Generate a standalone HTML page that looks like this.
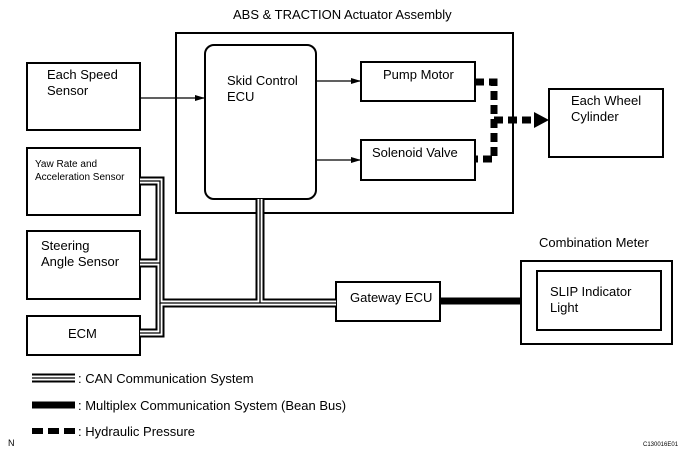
<!DOCTYPE html>
<html><head><meta charset="utf-8"><style>
body{margin:0;background:#fff}
svg{display:block;font-family:"Liberation Sans",Arial,sans-serif}
</style></head><body>
<svg width="689" height="455" viewBox="0 0 689 455" xmlns="http://www.w3.org/2000/svg">
<defs><marker id="a" markerWidth="10" markerHeight="8" refX="9" refY="4" orient="auto" markerUnits="userSpaceOnUse"><path d="M0,1 L10,4 L0,7 Z" fill="#000"/></marker></defs>
<g fill="none" stroke="#000" stroke-width="2">
<rect x="176" y="33" width="337" height="180"/>
<rect x="205" y="45" width="111" height="154" rx="9"/>
<rect x="361" y="62" width="114" height="39"/>
<rect x="361" y="140" width="114" height="40"/>
<rect x="549" y="89" width="114" height="68"/>
<rect x="27" y="63" width="113" height="67"/>
<rect x="27" y="148" width="113" height="67"/>
<rect x="27" y="231" width="113" height="68"/>
<rect x="27" y="316" width="113" height="39"/>
<rect x="336" y="282" width="104" height="39"/>
<rect x="521" y="261" width="151" height="83"/>
<rect x="537" y="271" width="124" height="59"/>
</g>
<g stroke="#000" stroke-width="1.3" fill="none">
<line x1="140" y1="98" x2="204" y2="98" marker-end="url(#a)"/>
<line x1="316" y1="81" x2="360" y2="81" marker-end="url(#a)"/>
<line x1="316" y1="160" x2="360" y2="160" marker-end="url(#a)"/>
</g>
<g fill="none">
<g stroke="#000" stroke-width="9">
<path d="M140,181 H160 V303 H336"/>
<path d="M140,263 H160"/>
<path d="M140,333 H160 V303"/>
<path d="M260,199 V303"/>
</g>
<g stroke="#fff" stroke-width="5">
<path d="M140,181 H160 V303 H336"/>
<path d="M140,263 H160"/>
<path d="M140,333 H160 V303"/>
<path d="M260,199 V303"/>
</g>
<g stroke="#000" stroke-width="1.3">
<path d="M140,181 H160 V303 H336"/>
<path d="M140,263 H160"/>
<path d="M140,333 H160 V303"/>
<path d="M260,199 V303"/>
</g>
</g>
<line x1="440" y1="301" x2="521" y2="301" stroke="#000" stroke-width="7"/>
<g stroke="#000" stroke-width="7" fill="none" stroke-dasharray="9,5">
<path d="M475,82 H494 V159 H475"/>
<path d="M494,120 H535"/>
</g>
<path d="M534,112 L549,120 L534,128 Z" fill="#000"/>
<g font-size="13" fill="#000">
<text x="233" y="19">ABS &amp; TRACTION Actuator Assembly</text>
<text x="47" y="79">Each Speed</text><text x="47" y="95">Sensor</text>
<text x="227" y="85">Skid Control</text><text x="227" y="101">ECU</text>
<text x="383" y="79">Pump Motor</text>
<text x="372" y="157">Solenoid Valve</text>
<text x="571" y="105">Each Wheel</text><text x="571" y="121">Cylinder</text>
<text x="41" y="250">Steering</text><text x="41" y="266">Angle Sensor</text>
<text x="68" y="338">ECM</text>
<text x="350" y="302">Gateway ECU</text>
<text x="539" y="247">Combination Meter</text>
<text x="550" y="296">SLIP Indicator</text><text x="550" y="312">Light</text>
<text x="78" y="383">: CAN Communication System</text>
<text x="78" y="410">: Multiplex Communication System (Bean Bus)</text>
<text x="78" y="436">: Hydraulic Pressure</text>
</g>
<g font-size="10"><text x="35" y="167">Yaw Rate and</text><text x="35" y="180">Acceleration Sensor</text></g>
<text x="8" y="446" font-size="9">N</text>
<text x="643" y="446" font-size="6">C130016E01</text>
<g fill="none">
<line x1="32" y1="378" x2="75" y2="378" stroke="#000" stroke-width="9"/>
<line x1="32" y1="378" x2="75" y2="378" stroke="#fff" stroke-width="5"/>
<line x1="32" y1="378" x2="75" y2="378" stroke="#000" stroke-width="1.3"/>
<line x1="32" y1="405" x2="75" y2="405" stroke="#000" stroke-width="7"/>
<line x1="32" y1="431" x2="75" y2="431" stroke="#000" stroke-width="6" stroke-dasharray="11,5"/>
</g>
</svg>
</body></html>
